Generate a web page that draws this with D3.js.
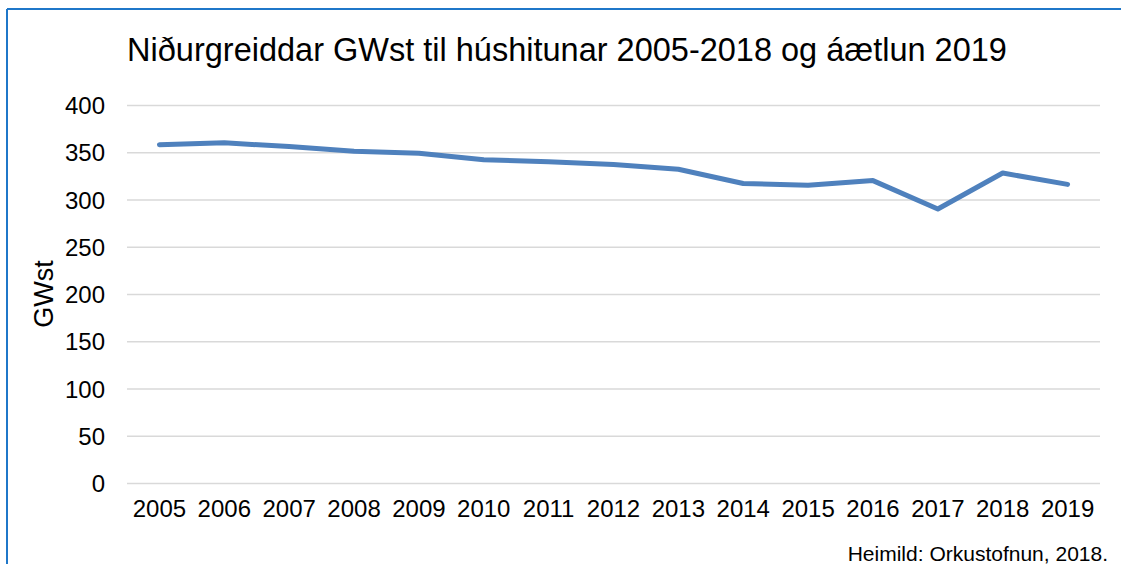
<!DOCTYPE html>
<html>
<head>
<meta charset="utf-8">
<script src="https://cdn.jsdelivr.net/npm/d3@7"></script>
<style>
  body { margin: 0; background: #fff; }
  svg { display: block; font-family: "Liberation Sans", Arial, sans-serif; }
</style>
</head>
<body>
<svg id="chart"></svg>
<script>
// data
const years = ["2005", "2006", "2007", "2008", "2009", "2010", "2011", "2012",
               "2013", "2014", "2015", "2016", "2017", "2018", "2019"];
const gwst = [358, 360, 356, 351, 349, 342, 340, 337, 332, 317, 315, 320, 290, 328, 316];
const yTicks = [0, 50, 100, 150, 200, 250, 300, 350, 400];

const titleText = "Niðurgreiddar GWst til húshitunar 2005-2018 og áætlun 2019";
const yLabelText = "GWst";
const sourceText = "Heimild: Orkustofnun, 2018.";

let width = 1121;
let height = 564;
let padding = {
    top: 105,
    right: 21,
    bottom: 81,
    left: 127
};

let svg = d3.select("#chart")
    .attr("width", width)
    .attr("height", height);

// outer frame (top and left edges show in the crop)
svg.append("line")
    .attr("x1", 7).attr("x2", width)
    .attr("y1", 9).attr("y2", 9)
    .attr("stroke", "#1f77c9")
    .attr("stroke-width", 2);
svg.append("line")
    .attr("x1", 7).attr("x2", 7)
    .attr("y1", 9).attr("y2", height)
    .attr("stroke", "#1f77c9")
    .attr("stroke-width", 2);

let xScale = d3.scaleBand()
    .domain(years)
    .range([padding.left, width - padding.right]);

let yScale = d3.scaleLinear()
    .domain([0, 400])
    .range([height - padding.bottom, padding.top]);

// gridlines
let yAxis = d3.axisLeft(yScale)
    .tickValues(yTicks)
    .tickSize(-(width - padding.left - padding.right))
    .tickPadding(22);

let gy = svg.append("g")
    .attr("transform", "translate(" + padding.left + ",0)")
    .call(yAxis);
gy.select(".domain").remove();
gy.selectAll(".tick line")
    .attr("stroke", "#d9d9d9")
    .attr("stroke-width", 1.5);
gy.selectAll(".tick text")
    .attr("fill", "#000")
    .style("font-size", "24px")
    .attr("dy", "0.36em");

let xAxis = d3.axisBottom(xScale)
    .tickSize(0)
    .tickPadding(17);

let gx = svg.append("g")
    .attr("transform", "translate(0," + (height - padding.bottom) + ")")
    .call(xAxis);
gx.select(".domain").remove();
gx.selectAll(".tick text")
    .attr("fill", "#000")
    .style("font-size", "24px");

// the line
let line = d3.line()
    .x((d, i) => xScale(years[i]) + xScale.bandwidth() / 2)
    .y(d => yScale(d));

svg.append("path")
    .datum(gwst)
    .attr("fill", "none")
    .attr("stroke", "#4f81bd")
    .attr("stroke-width", 5)
    .attr("stroke-linecap", "round")
    .attr("stroke-linejoin", "round")
    .attr("d", line);

// title
svg.append("text")
    .attr("x", 567)
    .attr("y", 61)
    .style("text-anchor", "middle")
    .style("font-size", "32.5px")
    .attr("fill", "#000")
    .text(titleText);

// y axis label
svg.append("text")
    .attr("transform", "rotate(-90)")
    .attr("x", -294)
    .attr("y", 53)
    .style("text-anchor", "middle")
    .style("font-size", "27px")
    .attr("fill", "#000")
    .text(yLabelText);

// source note
svg.append("text")
    .attr("x", 1108)
    .attr("y", 561)
    .style("text-anchor", "end")
    .style("font-size", "21px")
    .attr("fill", "#000")
    .text(sourceText);
</script>
</body>
</html>
